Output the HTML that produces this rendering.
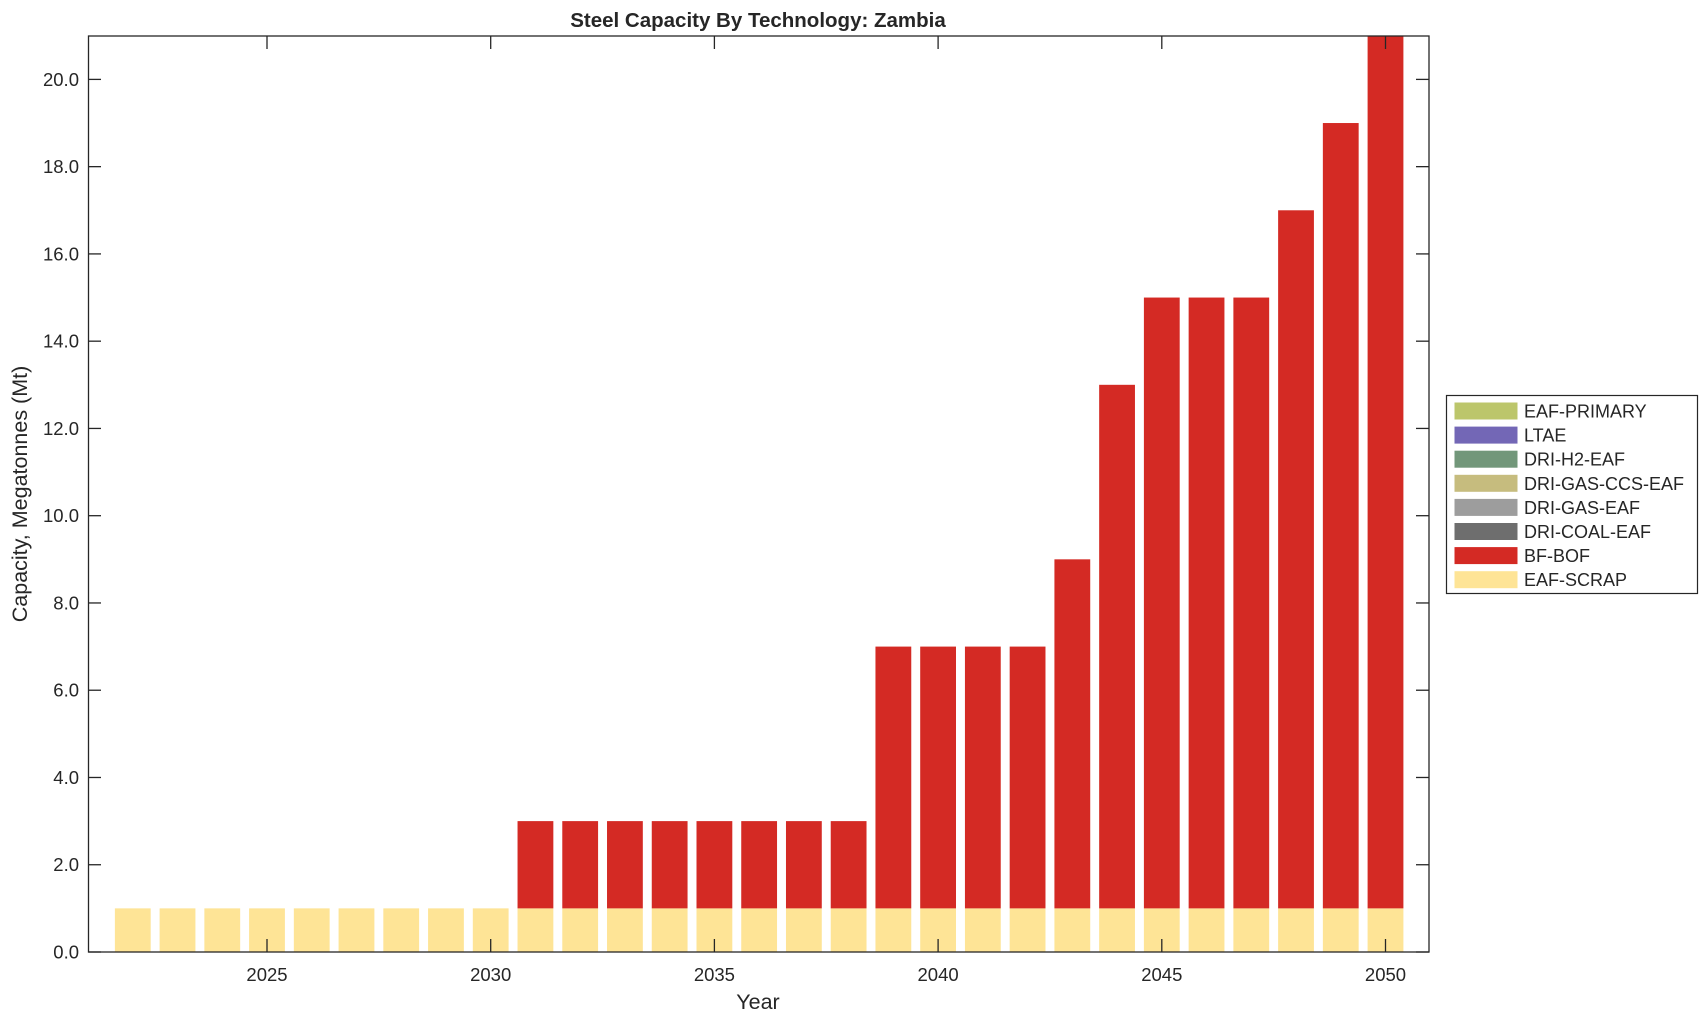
<!DOCTYPE html>
<html><head><meta charset="utf-8"><style>body{margin:0;background:#fff}svg{display:block}text{font-family:"Liberation Sans",Arial,sans-serif;fill:#262626}</style></head>
<body>
<svg width="1708" height="1021" viewBox="0 0 1708 1021" xmlns="http://www.w3.org/2000/svg">
<rect width="1708" height="1021" fill="#fff"/>
<g id="bars"></g>
<text x="758" y="27" text-anchor="middle" font-size="20.5" font-weight="bold" fill="#000">Steel Capacity By Technology: Zambia</text>
<g id="ticks" stroke="#262626" stroke-width="1.3"></g>
<rect x="88.5" y="36" width="1340.5" height="916" fill="none" stroke="#262626" stroke-width="1.3"/>
<g id="lbl" font-size="18.5"></g>
<text x="758" y="1009" text-anchor="middle" font-size="21.5">Year</text>
<text transform="translate(27,494) rotate(-90)" text-anchor="middle" font-size="21.5">Capacity, Megatonnes (Mt)</text>
<g>
<rect x="1446.5" y="395.5" width="251" height="198" fill="#fff" stroke="#262626" stroke-width="1.2"/>
</g>
<g id="leg" font-size="18"></g>
<script>
var ns="http://www.w3.org/2000/svg";
function el(p,t,a,txt){var e=document.createElementNS(ns,t);for(var k in a)e.setAttribute(k,a[k]);if(txt!=null)e.textContent=txt;p.appendChild(e);return e;}
var data={2022:1,2023:1,2024:1,2025:1,2026:1,2027:1,2028:1,2029:1,2030:1,2031:3,2032:3,2033:3,2034:3,2035:3,2036:3,2037:3,2038:3,2039:7,2040:7,2041:7,2042:7,2043:9,2044:13,2045:15,2046:15,2047:15,2048:17,2049:19,2050:21};
function X(y){return 267+(y-2025)*44.74;}
function Y(v){return 952-43.63*v;}
var b=document.getElementById('bars');
for(var yr=2022;yr<=2050;yr++){var c=X(yr),t=data[yr];
el(b,'rect',{x:c-17.9,y:Y(1),width:35.8,height:Y(0)-Y(1),fill:'#fee496'});
if(t>1)el(b,'rect',{x:c-17.9,y:Y(t),width:35.8,height:Y(1)-Y(t),fill:'#d42a24'});}
var tk=document.getElementById('ticks'),lb=document.getElementById('lbl');
for(var k=0;k<=10;k++){var y=Y(2*k);
el(tk,'line',{x1:88.5,x2:101,y1:y,y2:y});el(tk,'line',{x1:1416,x2:1429,y1:y,y2:y});
el(lb,'text',{x:79,y:y+6.5,'text-anchor':'end'},(2*k).toFixed(1));}
for(var yr=2025;yr<=2050;yr+=5){var x=X(yr);
el(tk,'line',{x1:x,x2:x,y1:952,y2:939});el(tk,'line',{x1:x,x2:x,y1:36,y2:49});
el(lb,'text',{x:x,y:981,'text-anchor':'middle'},yr);}
var L=[['EAF-PRIMARY','#bcc66b'],['LTAE','#7367b6'],['DRI-H2-EAF','#72977a'],['DRI-GAS-CCS-EAF','#c6bc7e'],['DRI-GAS-EAF','#9d9d9d'],['DRI-COAL-EAF','#6e6e6e'],['BF-BOF','#d42a24'],['EAF-SCRAP','#fee496']];
var lg=document.getElementById('leg');
L.forEach(function(d,i){var cy=411+i*24.1;
el(lg,'rect',{x:1454.5,y:cy-8.5,width:63,height:17,fill:d[1]});
el(lg,'text',{x:1524,y:cy+6.5},d[0]);});
</script>
</svg>
</body></html>
